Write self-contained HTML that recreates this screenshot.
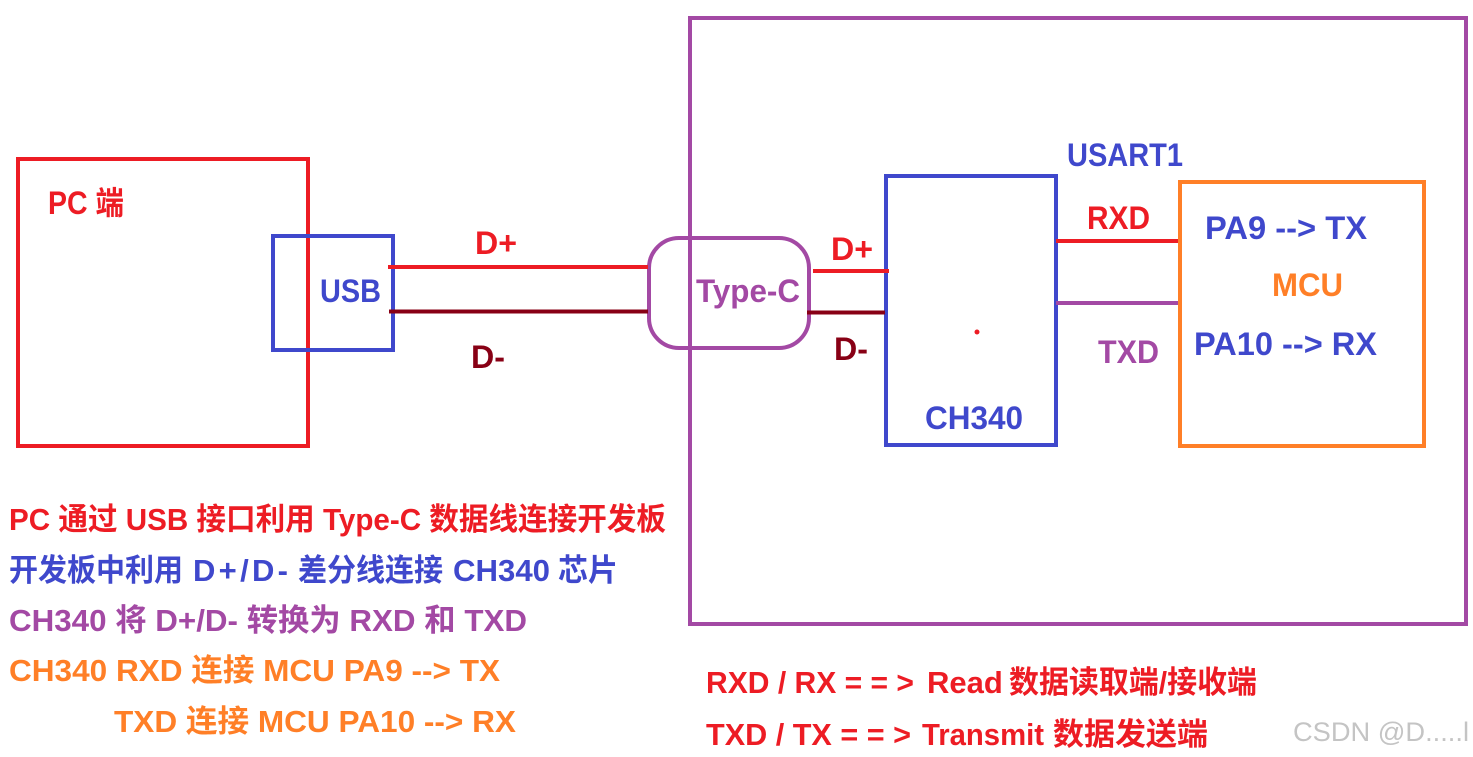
<!DOCTYPE html>
<html lang="zh">
<head>
<meta charset="utf-8">
<style>
html,body{margin:0;padding:0;background:#fff;width:1473px;height:757px;overflow:hidden}
svg{display:block}
text{font-family:"Liberation Sans","Noto Sans CJK SC",sans-serif;font-weight:700;font-size:32px}
.r{fill:#ed1c24}.b{fill:#3f48cc}.p{fill:#a349a4}.o{fill:#ff7f27}.d{fill:#880015}
.s{font-size:31px}
</style>
</head>
<body>
<svg width="1473" height="757" viewBox="0 0 1473 757" xmlns="http://www.w3.org/2000/svg">
<g fill="none" stroke-width="4">
<rect x="18" y="159" width="290" height="287" stroke="#ed1c24"/>
<rect x="273" y="236" width="120" height="114" stroke="#3f48cc"/>
<rect x="690" y="18" width="776" height="606" stroke="#a349a4"/>
<rect x="649" y="238" width="160" height="110" rx="30" stroke="#a349a4"/>
<rect x="886" y="176" width="170" height="269" stroke="#3f48cc"/>
<rect x="1180" y="182" width="244" height="264" stroke="#ff7f27"/>
</g>
<g stroke-width="4">
<line x1="388" y1="267" x2="648" y2="267" stroke="#ed1c24"/>
<line x1="389" y1="311.500" x2="648" y2="311.500" stroke="#880015"/>
<line x1="813" y1="271" x2="889" y2="271" stroke="#ed1c24"/>
<line x1="807" y1="312.500" x2="885" y2="312.500" stroke="#880015"/>
<line x1="1056" y1="241" x2="1178" y2="241" stroke="#ed1c24"/>
<line x1="1056" y1="303" x2="1178" y2="303" stroke="#a349a4"/>
</g>
<circle cx="977" cy="332" r="2.500" fill="#ed1c24"/>

<text class="r" x="48" y="214" textLength="76" lengthAdjust="spacingAndGlyphs">PC 端</text>
<text class="b" x="320" y="302" textLength="61" lengthAdjust="spacingAndGlyphs">USB</text>
<text class="r" x="475" y="254" textLength="42" lengthAdjust="spacingAndGlyphs">D+</text>
<text class="d" x="471" y="368" textLength="34" lengthAdjust="spacingAndGlyphs">D-</text>
<text class="p" x="696" y="302" textLength="104" lengthAdjust="spacingAndGlyphs">Type-C</text>
<text class="r" x="831" y="260" textLength="42" lengthAdjust="spacingAndGlyphs">D+</text>
<text class="d" x="834" y="360" textLength="34" lengthAdjust="spacingAndGlyphs">D-</text>
<text class="b" x="925" y="429" textLength="98" lengthAdjust="spacingAndGlyphs">CH340</text>
<text class="b" x="1067" y="166" textLength="116" lengthAdjust="spacingAndGlyphs">USART1</text>
<text class="r" x="1087" y="229" textLength="63" lengthAdjust="spacingAndGlyphs">RXD</text>
<text class="p" x="1098" y="363" textLength="61" lengthAdjust="spacingAndGlyphs">TXD</text>
<text class="b" x="1205" y="239" textLength="162" lengthAdjust="spacingAndGlyphs">PA9 --&gt; TX</text>
<text class="o" x="1272" y="296" textLength="71" lengthAdjust="spacingAndGlyphs">MCU</text>
<text class="b" x="1194" y="355" textLength="183" lengthAdjust="spacingAndGlyphs">PA10 --&gt; RX</text>

<text class="r s" x="9" y="530" textLength="657" lengthAdjust="spacingAndGlyphs">PC 通过 USB 接口利用 Type-C 数据线连接开发板</text>
<text class="b s" y="581"><tspan x="9" textLength="174" lengthAdjust="spacingAndGlyphs">开发板中利用</tspan> <tspan x="193" textLength="95" lengthAdjust="spacing">D+/D-</tspan> <tspan x="298" textLength="145" lengthAdjust="spacingAndGlyphs">差分线连接</tspan> <tspan x="453" textLength="97" lengthAdjust="spacingAndGlyphs">CH340</tspan> <tspan x="558" textLength="60" lengthAdjust="spacingAndGlyphs">芯片</tspan></text>
<text class="p s" x="9" y="631" textLength="518" lengthAdjust="spacingAndGlyphs">CH340 将 D+/D- 转换为 RXD 和 TXD</text>
<text class="o s" x="9" y="681" textLength="491" lengthAdjust="spacingAndGlyphs">CH340 RXD 连接 MCU PA9 --&gt; TX</text>
<text class="o s" x="114" y="732" textLength="402" lengthAdjust="spacingAndGlyphs">TXD 连接 MCU PA10 --&gt; RX</text>

<text class="r s" y="693"><tspan x="706" textLength="208" lengthAdjust="spacingAndGlyphs">RXD / RX = = &gt;</tspan> <tspan x="927">Read</tspan> <tspan x="1009" textLength="248" lengthAdjust="spacingAndGlyphs">数据读取端/接收端</tspan></text>
<text class="r s" y="745"><tspan x="706" textLength="205" lengthAdjust="spacingAndGlyphs">TXD / TX = = &gt;</tspan> <tspan x="922" textLength="122" lengthAdjust="spacingAndGlyphs">Transmit</tspan> <tspan x="1053" textLength="155" lengthAdjust="spacingAndGlyphs">数据发送端</tspan></text>
<text x="1293" y="741" textLength="176" lengthAdjust="spacingAndGlyphs" style="font-weight:400;font-size:27px;fill:#c4c4c4">CSDN @D.....l</text>
</svg>
</body>
</html>
